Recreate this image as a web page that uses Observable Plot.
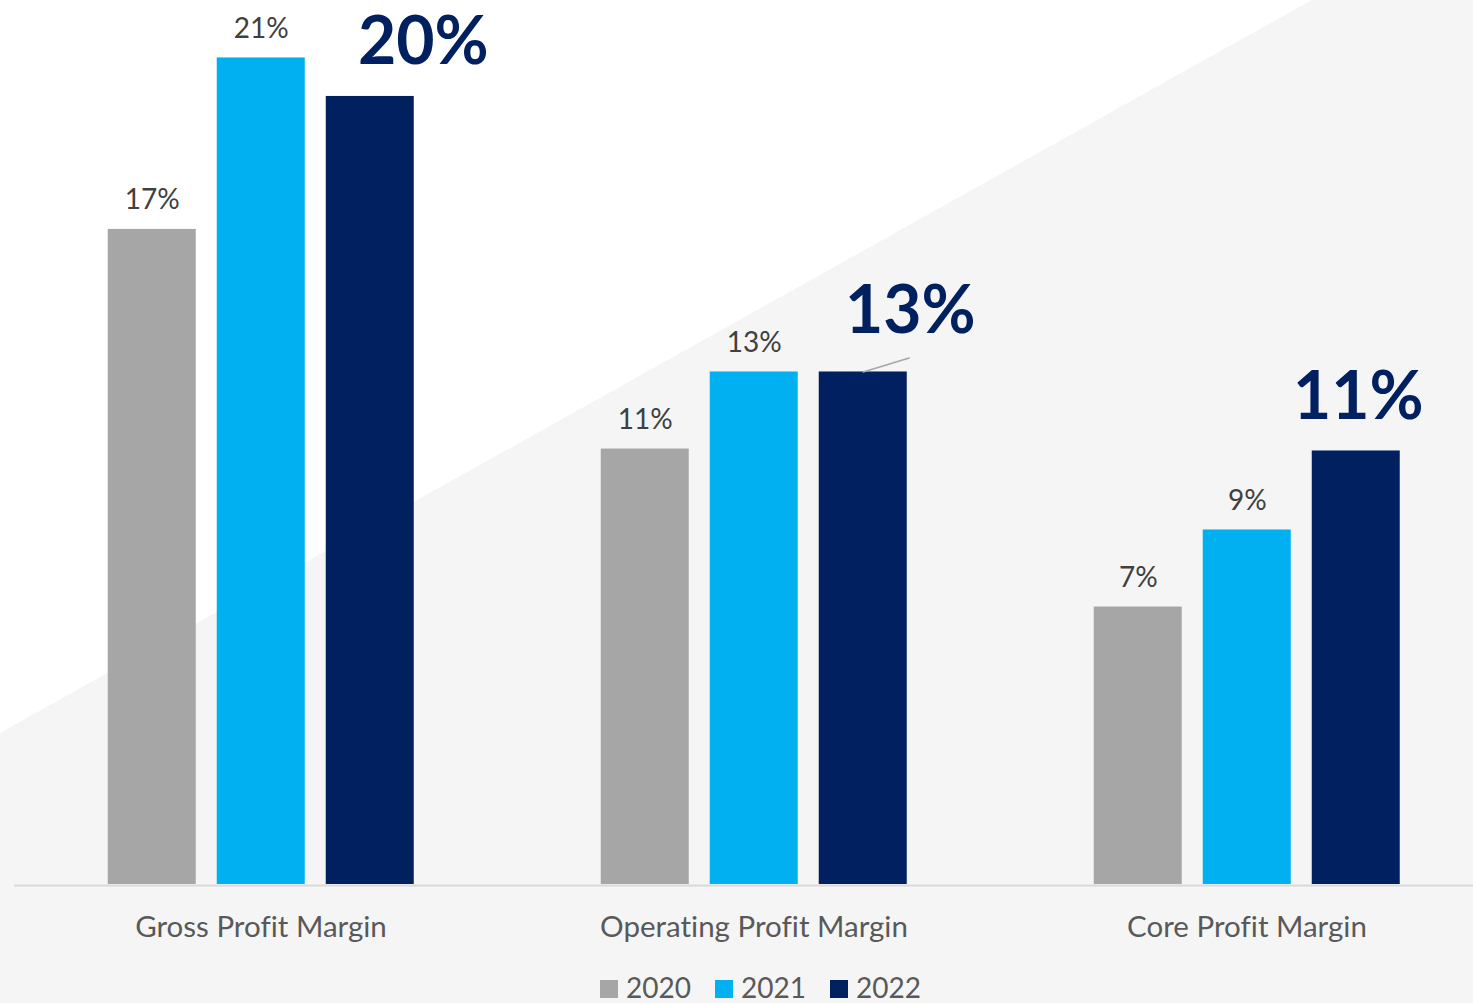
<!DOCTYPE html>
<html><head><meta charset="utf-8">
<script src="https://cdn.jsdelivr.net/npm/d3@7"></script>
<script src="https://cdn.jsdelivr.net/npm/@observablehq/plot@0.6"></script>
<style>
html,body{margin:0;padding:0;width:1473px;height:1003px;overflow:hidden;background:#fff;font-family:Lato,sans-serif;}
#bg{position:absolute;left:0;top:0;width:1473px;height:1003px;background:#f5f5f5;clip-path:polygon(0 733px,1312px 0,1473px 0,1473px 1003px,0 1003px);}
#chart{position:absolute;left:0;top:0;}
#chart svg text{font-variant-ligatures:none;font-feature-settings:"liga" 0;}
#legend{position:absolute;left:600px;top:970px;display:flex;align-items:center;font-size:28px;color:#595959;line-height:34px;}
#legend .item{display:flex;align-items:center;margin-right:24px;}
#legend .sw{width:18px;height:18px;margin-right:8px;margin-top:4px;}
</style>
</head><body>
<div id="bg"></div>
<div id="chart"></div>
<div id="legend"></div>
<script>
const categories = ["Gross Profit Margin", "Operating Profit Margin", "Core Profit Margin"];
const years = ["2020", "2021", "2022"];
const values2020 = [17.0, 11.3, 7.2];
const values2021 = [21.45, 13.3, 9.2];
const values2022 = [20.45, 13.3, 11.25];
const labels2020 = ["17%", "11%", "7%"];
const labels2021 = ["21%", "13%", "9%"];
const labels2022 = ["20%", "13%", "11%"];
const colors = ["#a6a6a6", "#00b0f0", "#002060"];

const seriesValues = [values2020, values2021, values2022];
const seriesLabels = [labels2020, labels2021, labels2022];
const rows = [];
categories.forEach((c, i) => years.forEach((y, j) => rows.push({category: c, year: y, value: seriesValues[j][i], label: seriesLabels[j][i]})));

const big = rows.filter(d => d.year === "2022");
const small = rows.filter(d => d.year !== "2022");
const bigOffsets = [[53, -32], [47, -39], [2, -32]];

const noLine = {draw(context, l) { context.moveTo(0, 0); context.lineTo(0, -l); }};

const chart = Plot.plot({
  width: 1473,
  height: 960,
  marginLeft: 13.25,
  marginRight: -20.75,
  marginTop: 0,
  marginBottom: 76,
  style: {background: "transparent", fontFamily: "Lato, sans-serif", overflow: "visible"},
  fx: {domain: categories, padding: 0, axis: null},
  x: {domain: years, paddingInner: 0.196, paddingOuter: 0.852, axis: null},
  y: {domain: [0, 22.94], axis: null},
  color: {domain: years, range: colors},
  marks: [
    Plot.ruleY([0], {stroke: "#d9d9d9", strokeWidth: 2, dy: 1}),
    Plot.barY(rows, {fx: "category", x: "year", y: "value", fill: "year"}),
    Plot.text(small, {fx: "category", x: "year", y: "value", text: "label", lineAnchor: "bottom", dy: -20, fontSize: 28, fill: "#404040"}),
    ...categories.map((c, i) => Plot.text(big.filter(d => d.category === c), {
      fx: "category", x: "year", y: "value", text: "label", lineAnchor: "bottom",
      dx: bigOffsets[i][0], dy: bigOffsets[i][1], fontSize: 66, fontWeight: "bold", fill: "#002060"
    })),
    Plot.vector(big.filter(d => d.category === categories[1]), {
      fx: "category", x: "year", y: "value", anchor: "start", length: 48, rotate: 73,
      shape: noLine, stroke: "#a6a6a6", strokeWidth: 1.5
    }),
    Plot.text(categories, {fx: d => d, text: d => d, frameAnchor: "bottom", lineAnchor: "bottom", dy: 52, fontSize: 29.5, fill: "#595959"})
  ]
});
document.getElementById("chart").appendChild(chart);

const legend = document.getElementById("legend");
years.forEach((y, i) => {
  const item = document.createElement("div");
  item.className = "item";
  const sw = document.createElement("span");
  sw.className = "sw";
  sw.style.background = colors[i];
  const t = document.createElement("span");
  t.textContent = y;
  item.appendChild(sw); item.appendChild(t);
  legend.appendChild(item);
});
</script>
</body></html>
